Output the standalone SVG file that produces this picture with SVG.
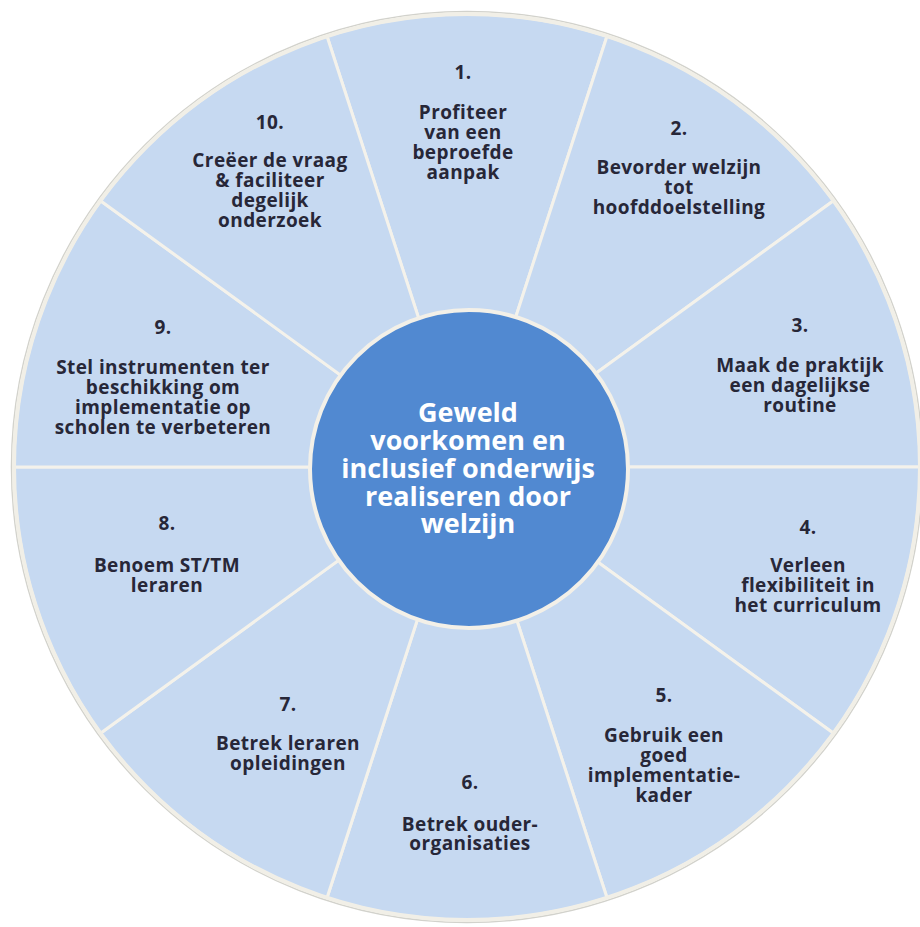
<svg xmlns="http://www.w3.org/2000/svg" width="920" height="927" viewBox="0 0 920 927">
  <style>
    .seg { fill: #c6d9f1; stroke: #f4f2eb; stroke-width: 3; stroke-linejoin: round; }
    .t { font-family: "Open Sans", "Noto Sans", "DejaVu Sans", sans-serif; font-weight: 700; font-size: 19px; letter-spacing: 0.4px; fill: #272738; text-anchor: middle; }
    .c { font-family: "Open Sans", "Noto Sans", "DejaVu Sans", sans-serif; font-weight: 700; font-size: 27px; fill: #ffffff; text-anchor: middle; }
  </style>
  <rect width="920" height="927" fill="#ffffff"/>
  <circle cx="467" cy="467" r="455.5" fill="none" stroke="#d2d2cc" stroke-width="1.5"/>

  <g id="seg1">
    <path class="seg" d="M467 467 L327.02 36.17 A453 453 0 0 1 606.98 36.17 Z"/>
    <text class="t" x="463" y="79">1.</text>
    <text class="t" x="463" y="119">Profiteer</text>
    <text class="t" x="463" y="139">van een</text>
    <text class="t" x="463" y="159">beproefde</text>
    <text class="t" x="463" y="179">aanpak</text>
  </g>
  <g id="seg2">
    <path class="seg" d="M467 467 L606.98 36.17 A453 453 0 0 1 833.48 200.73 Z"/>
    <text class="t" x="679" y="135">2.</text>
    <text class="t" x="679" y="174">Bevorder welzijn</text>
    <text class="t" x="679" y="194">tot</text>
    <text class="t" x="679" y="214">hoofddoelstelling</text>
  </g>
  <g id="seg3">
    <path class="seg" d="M467 467 L833.48 200.73 A453 453 0 0 1 920 467 Z"/>
    <text class="t" x="800" y="332">3.</text>
    <text class="t" x="800" y="372">Maak de praktijk</text>
    <text class="t" x="800" y="392">een dagelijkse</text>
    <text class="t" x="800" y="412">routine</text>
  </g>
  <g id="seg4">
    <path class="seg" d="M467 467 L920 467 A453 453 0 0 1 833.48 733.27 Z"/>
    <text class="t" x="808" y="534">4.</text>
    <text class="t" x="808" y="572">Verleen</text>
    <text class="t" x="808" y="592">flexibiliteit in</text>
    <text class="t" x="808" y="612">het curriculum</text>
  </g>
  <g id="seg5">
    <path class="seg" d="M467 467 L833.48 733.27 A453 453 0 0 1 606.98 897.83 Z"/>
    <text class="t" x="664" y="702">5.</text>
    <text class="t" x="664" y="742">Gebruik een</text>
    <text class="t" x="664" y="762">goed</text>
    <text class="t" x="664" y="782">implementatie-</text>
    <text class="t" x="664" y="802">kader</text>
  </g>
  <g id="seg6">
    <path class="seg" d="M467 467 L606.98 897.83 A453 453 0 0 1 327.02 897.83 Z"/>
    <text class="t" x="470" y="789">6.</text>
    <text class="t" x="470" y="831">Betrek ouder-</text>
    <text class="t" x="470" y="850">organisaties</text>
  </g>
  <g id="seg7">
    <path class="seg" d="M467 467 L327.02 897.83 A453 453 0 0 1 100.52 733.27 Z"/>
    <text class="t" x="288" y="711">7.</text>
    <text class="t" x="288" y="750">Betrek leraren</text>
    <text class="t" x="288" y="770">opleidingen</text>
  </g>
  <g id="seg8">
    <path class="seg" d="M467 467 L100.52 733.27 A453 453 0 0 1 14 467 Z"/>
    <text class="t" x="167" y="530">8.</text>
    <text class="t" x="167" y="572">Benoem ST/TM</text>
    <text class="t" x="167" y="592">leraren</text>
  </g>
  <g id="seg9">
    <path class="seg" d="M467 467 L14 467 A453 453 0 0 1 100.52 200.73 Z"/>
    <text class="t" x="163" y="334">9.</text>
    <text class="t" x="163" y="374">Stel instrumenten ter</text>
    <text class="t" x="163" y="394">beschikking om</text>
    <text class="t" x="163" y="414">implementatie op</text>
    <text class="t" x="163" y="434">scholen te verbeteren</text>
  </g>
  <g id="seg10">
    <path class="seg" d="M467 467 L100.52 200.73 A453 453 0 0 1 327.02 36.17 Z"/>
    <text class="t" x="270" y="129">10.</text>
    <text class="t" x="270" y="167">Creëer de vraag</text>
    <text class="t" x="270" y="187">&amp; faciliteer</text>
    <text class="t" x="270" y="207">degelijk</text>
    <text class="t" x="270" y="227">onderzoek</text>
  </g>

  <circle cx="467" cy="467" r="453" fill="none" stroke="#f1efe7" stroke-width="4"/>

  <g id="center">
    <circle cx="469" cy="469" r="159" fill="#5189d1" stroke="#f3f0e8" stroke-width="4"/>
    <text class="c" x="468" y="422">Geweld</text>
    <text class="c" x="468" y="450">voorkomen en</text>
    <text class="c" x="468" y="478">inclusief onderwijs</text>
    <text class="c" x="468" y="506">realiseren door</text>
    <text class="c" x="468" y="533">welzijn</text>
  </g>
</svg>
